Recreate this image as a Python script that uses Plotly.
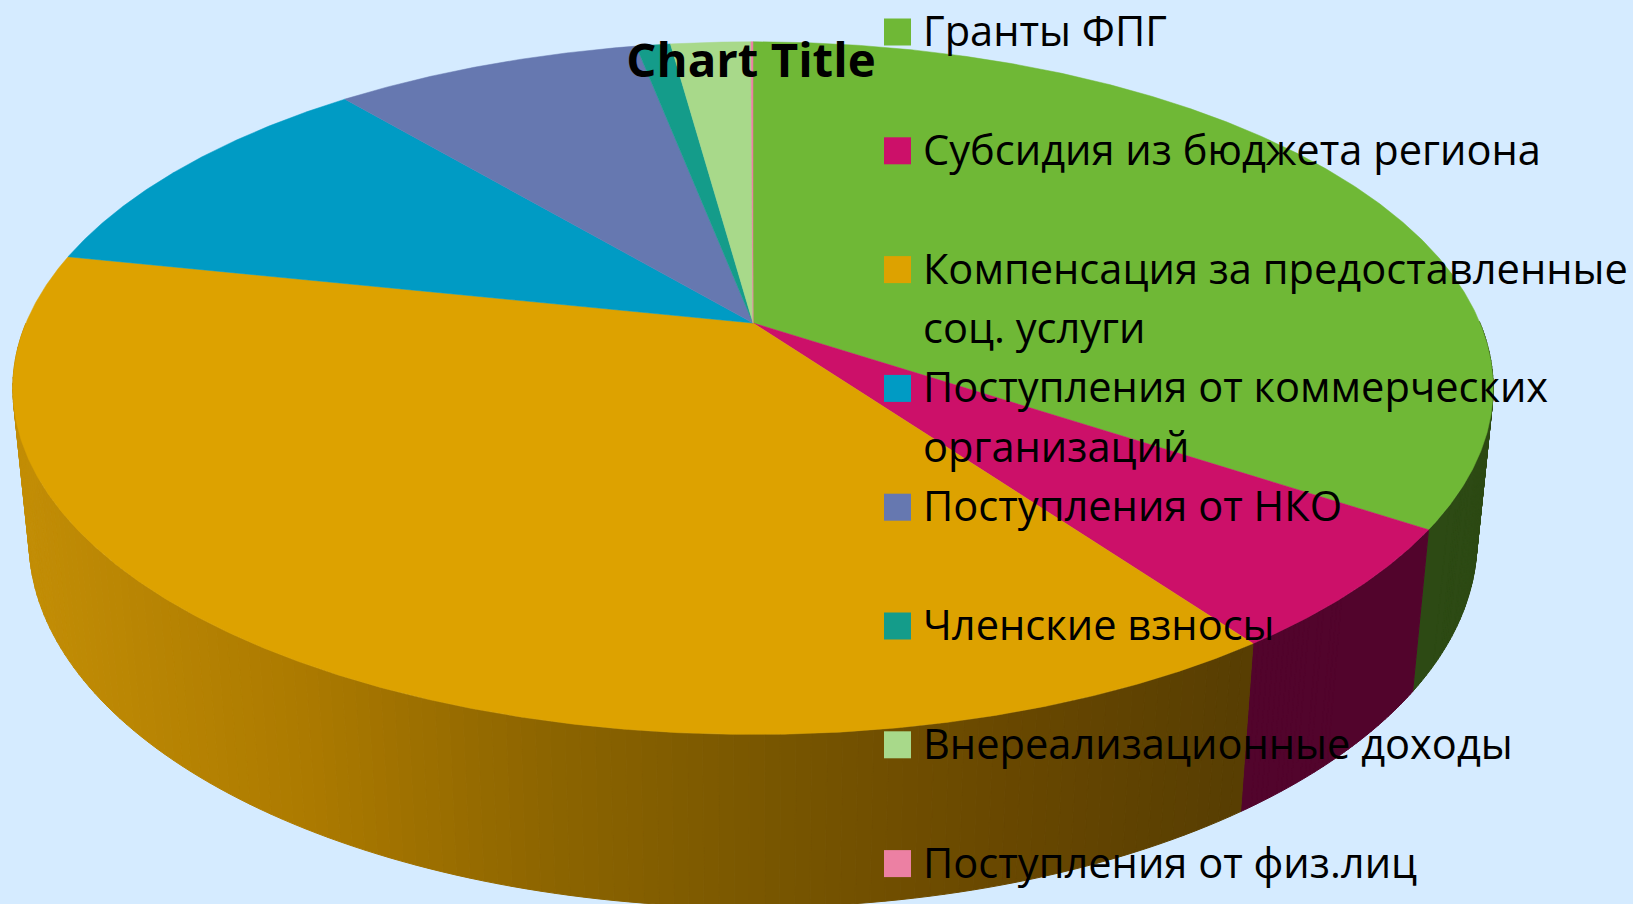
import numpy as np
import plotly.graph_objects as go

# ---- data -------------------------------------------------------------
categories = ["Гранты ФПГ", "Субсидия из бюджета региона",
              "Компенсация за предоставленные соц. услуги",
              "Поступления от коммерческих организаций",
              "Поступления от НКО", "Членские взносы",
              "Внереализационные доходы", "Поступления от физ.лиц"]
legend_lines = [["Гранты ФПГ"], ["Субсидия из бюджета региона"],
                ["Компенсация за предоставленные", "соц. услуги"],
                ["Поступления от коммерческих", "организаций"],
                ["Поступления от НКО"], ["Членские взносы"],
                ["Внереализационные доходы"], ["Поступления от физ.лиц"]]
values = [34.35, 5.75, 38.2, 10.6, 8.05, 0.9, 2.1, 0.05]
top_colors = ["#6FB836", "#CC1069", "#DDA200", "#009BC4",
              "#6678B0", "#149C8A", "#A8D98A", "#EC80A3"]
wall_colors = ["#2D4A14", "#52042C", None, "#004C60", "#333C58", "#0A4E45", "#546C45", "#764051"]
wall_x = [20, 300, 550, 750, 1000, 1240]
wall_rgb = [(194, 141, 5), (172, 122, 0), (140, 100, 0), (122, 87, 0), (105, 72, 0), (88, 62, 2)]
BG = "#D5EBFF"
FONT = "Open Sans"

# ---- perspective geometry of the tilted disc ----------------------------
X0, Y0, A, B, K, M, DROP = 753.0, 323.0, 727.0, 334.1, 0.188, 0.0216, 153.0


def project(theta, r=1.0, z=0.0):
    u, v = r * np.sin(theta), r * np.cos(theta)
    w = 1 + K * v + M * z
    return X0 + A * u / w, Y0 + (-B * v + DROP * z) / w


def wall_color(x):
    return "rgb(%d,%d,%d)" % tuple(
        int(round(np.interp(x, wall_x, [c[i] for c in wall_rgb]))) for i in range(3))


fig = go.Figure()


def poly(xs, ys, color, width=1.0):
    fig.add_trace(go.Scatter(x=list(xs), y=list(ys), mode="lines", fill="toself",
                             fillcolor=color, line=dict(color=color, width=width),
                             hoverinfo="skip", showlegend=False))


def wall_strips(a0, a1, per_degree):
    """Side-wall quads of one slice; the back half of the rim is hidden, so it is skipped."""
    steps = np.linspace(a0, a1, int(np.degrees(a1 - a0) * per_degree) + 2)
    out = []
    for s0, s1 in zip(steps[:-1], steps[1:]):
        if np.cos((s0 + s1) / 2) > 0:
            continue
        th = np.linspace(s0, s1, 4)
        xt, yt = project(th)
        xb, yb = project(th[::-1], z=1)
        out.append((np.r_[xt, xb, xt[0]], np.r_[yt, yb, yt[0]]))
    return out


edges = np.radians(np.cumsum([0] + values) * 3.6)
for i in range(len(values)):
    if wall_colors[i] is not None:
        xs, ys = [], []
        for sx, sy in wall_strips(edges[i], edges[i + 1], 2):
            xs += list(sx) + [None]
            ys += list(sy) + [None]
        if xs:
            poly(xs, ys, wall_colors[i])
    else:
        for sx, sy in wall_strips(edges[i], edges[i + 1], 1):
            poly(sx, sy, wall_color(sx[:4].mean()))

for i in range(len(values)):
    a0, a1 = edges[i], edges[i + 1]
    th = np.linspace(a0, a1, max(int((a1 - a0) * 200), 3))
    xt, yt = project(th)
    poly(np.r_[X0, xt, X0], np.r_[Y0, yt, Y0], top_colors[i], width=0.5)

# ---- legend --------------------------------------------------------------
LEG_Y0, LEG_STEP, LINE_H, SWATCH_X, TEXT_X = 32.0, 118.8, 59.4, 897.5, 922
leg_y = [LEG_Y0 + i * LEG_STEP for i in range(len(categories))]
fig.add_trace(go.Scatter(x=[SWATCH_X] * len(categories), y=leg_y, mode="markers",
                         marker=dict(symbol="square", size=27, color=top_colors, line=dict(width=0)),
                         text=categories, hoverinfo="text", showlegend=False))
annotations = []
for i, lines in enumerate(legend_lines):
    for j, line in enumerate(lines):
        annotations.append(dict(x=TEXT_X, y=leg_y[i] + j * LINE_H - 2, text=line, xref="x", yref="y",
                                xanchor="left", yanchor="middle", showarrow=False, borderpad=0,
                                font=dict(family=FONT, size=41.6, color="#000000")))

fig.update_layout(
    width=1633, height=904, autosize=False,
    margin=dict(l=0, r=0, t=0, b=0),
    paper_bgcolor=BG, plot_bgcolor=BG,
    showlegend=False,
    title=dict(text="<b>Chart Title</b>", x=751 / 1633, xanchor="center", xref="paper",
               y=1 - 60 / 904, yanchor="middle", yref="paper",
               font=dict(family=FONT, size=47.4, color="#000000")),
    xaxis=dict(range=[0, 1633], visible=False, fixedrange=True),
    yaxis=dict(range=[904, 0], visible=False, fixedrange=True),
    annotations=annotations,
)
fig.write_html("out.html", config=dict(displayModeBar=False),
               post_script="document.body.style.margin='0';document.body.style.overflow='hidden';")
